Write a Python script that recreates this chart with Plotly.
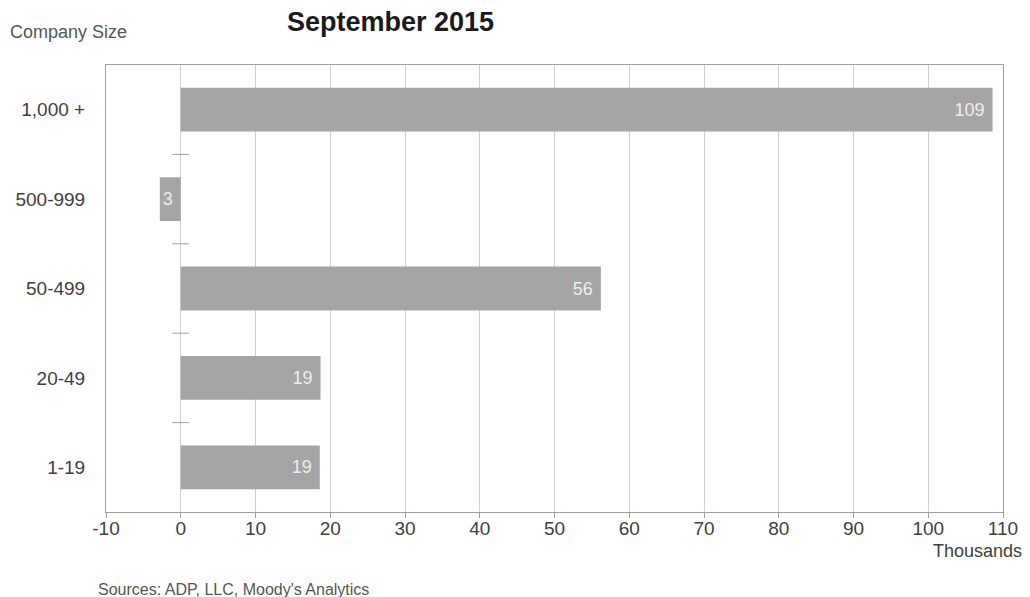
import plotly.graph_objects as go

categories = ["1,000 +", "500-999", "50-499", "20-49", "1-19"]
values = [108.6, -2.8, 56.2, 18.7, 18.6]
labels = [str(round(abs(v))) + ("\u00a0" if v > 0 else "") for v in values]
x_ticks = list(range(-10, 111, 10))

BAR = "#a5a5a5"
GRID = "#d0d0d0"
AXIS = "#a0a0a0"
TXT = "#404040"
FONT = "Liberation Sans, Arial, sans-serif"

fig = go.Figure()
fig.add_trace(go.Bar(
    y=categories, x=values, orientation="h",
    marker=dict(color=BAR, line=dict(width=0)),
    text=labels, textposition="inside", insidetextanchor="end",
    textangle=0,
    textfont=dict(color="#eeeeee", size=18, family=FONT),
    constraintext="none",
    width=0.49, showlegend=False, hoverinfo="skip",
))
# category boundary ticks on the value-zero axis
bounds = [i + 0.5 for i in range(len(categories) - 1)]
fig.add_trace(go.Scatter(
    x=[0] * len(bounds), y=bounds, mode="markers",
    marker=dict(symbol="line-ew", size=12, line=dict(color=AXIS, width=1)),
    showlegend=False, hoverinfo="skip", yaxis="y2",
))

W, H = 1030, 597
L, R, T, B = 106, 25, 65, 85

fig.update_layout(
    width=W, height=H,
    margin=dict(l=L, r=R, t=T, b=B),
    paper_bgcolor="white", plot_bgcolor="white",
    font=dict(family=FONT, color=TXT, size=18),
    uniformtext=dict(mode=False),
    xaxis=dict(
        range=[-10, 110], tickvals=x_ticks, ticktext=[str(t) for t in x_ticks],
        showgrid=True, gridcolor=GRID, gridwidth=1,
        showline=True, linecolor=AXIS, linewidth=1, mirror=True,
        ticks="outside", ticklen=5, tickcolor=AXIS,
        ticklabelstandoff=-6,
        zeroline=False, tickfont=dict(size=19, color=TXT),
    ),
    yaxis=dict(
        categoryorder="array", categoryarray=categories,
        range=[len(categories) - 0.5, -0.5],
        showgrid=False, showline=True, linecolor=AXIS, linewidth=1, mirror=True,
        ticks="", ticklabelstandoff=16, tickfont=dict(size=19, color=TXT),
    ),
    yaxis2=dict(
        overlaying="y", range=[len(categories) - 0.5, -0.5],
        visible=False,
    ),
)

pw, ph = W - L - R, H - T - B


def ann(text, px, py, size, color, anchor, bold=False):
    return dict(text=f"<b>{text}</b>" if bold else text,
                x=(px - L) / pw, y=1 - (py - T) / ph,
                xref="paper", yref="paper", showarrow=False,
                font=dict(size=size, color=color),
                xanchor=anchor, yanchor="middle")


fig.update_layout(annotations=[
    ann("September 2015", 391, 22, 27, "#1a1a1a", "center", bold=True),
    ann("Company Size", 8, 32, 18, "#555555", "left"),
    ann("Thousands", 1026, 551, 18, TXT, "right"),
    ann("Sources: ADP, LLC, Moody's Analytics", 96, 589, 16, "#555555", "left"),
])

fig.write_html("out.html")
